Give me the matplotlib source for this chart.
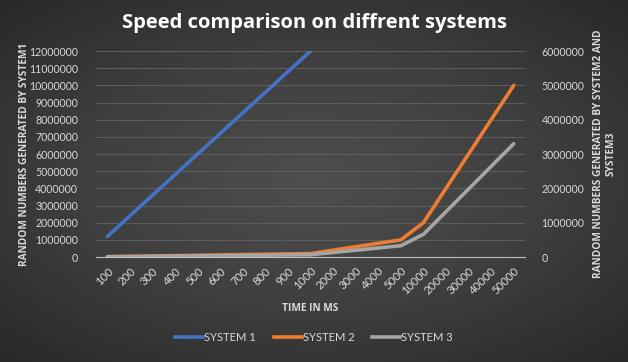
import numpy as np
import matplotlib
matplotlib.use("Agg")
import matplotlib.pyplot as plt
from matplotlib.lines import Line2D

categories = ["100", "200", "300", "400", "500", "600", "700", "800", "900", "1000",
              "2000", "3000", "4000", "5000", "10000", "20000", "30000", "40000", "50000"]
system1 = [1200000, 2400000, 3600000, 4800000, 6000000, 7200000, 8400000, 9600000,
           10800000, 12000000] + [np.nan] * 9
system2 = [10000, 20000, 30000, 40000, 50000, 60000, 70000, 80000, 90000, 100000,
           200000, 300000, 400000, 500000, 1000000, 2000000, 3000000, 4000000, 5000000]
system3 = [6600, 13200, 19800, 26400, 33000, 39600, 46200, 52800, 59400, 66000,
           132000, 198000, 264000, 330000, 660000, 1320000, 1980000, 2640000, 3300000]

plt.rcParams['font.family'] = ['Lato', 'DejaVu Sans']
bold_font = ['Open Sans', 'DejaVu Sans']
txt = '#d9d9d9'
fig = plt.figure(figsize=(6.28, 3.62), dpi=100)

# radial dark gradient background
bg = fig.add_axes([0, 0, 1, 1], zorder=-10)
yy, xx = np.mgrid[-1:1:200j, -1:1:300j]
r = np.sqrt((xx * 0.85) ** 2 + (yy * 0.9) ** 2)
bg.imshow(np.clip(r, 0, 1.3), cmap=matplotlib.colors.LinearSegmentedColormap.from_list(
    'g', ['#4e4e4e', '#3e3e3e', '#262626']), aspect='auto', extent=[0, 1, 0, 1], vmin=0, vmax=1.3)
bg.axis('off')

ax = fig.add_axes([0.153, 0.290, 0.683, 0.569])
ax.patch.set_alpha(0)
ax2 = ax.twinx()
ax2.patch.set_alpha(0)

x = np.arange(len(categories))
ax.plot(x, system1, color='#4472C4', lw=2.6, solid_capstyle='round', zorder=3)
ax2.plot(x, system2, color='#ED7D31', lw=2.6, solid_capstyle='round', zorder=3)
ax2.plot(x, system3, color='#A5A5A5', lw=2.6, solid_capstyle='round', zorder=3)

ax.set_xlim(-0.5, len(categories) - 0.5)
ax.set_ylim(0, 12000000)
ax2.set_ylim(0, 6000000)
ax.set_yticks(np.arange(0, 12000001, 1000000))
ax2.set_yticks(np.arange(0, 6000001, 1000000))
ax.set_yticklabels([str(v) for v in range(0, 12000001, 1000000)])
ax2.set_yticklabels([str(v) for v in range(0, 6000001, 1000000)])
ax.set_xticks(x)
ax.set_xticklabels(categories, rotation=45, ha='right', va='top', rotation_mode='anchor')

ax.grid(axis='y', color='#5c5c5c', lw=0.8)
ax.set_axisbelow(True)
for a in (ax, ax2):
    for s in a.spines.values():
        s.set_visible(False)
    a.tick_params(length=0, colors=txt, labelsize=7.6)
ax.tick_params(axis='x', labelsize=8.2, pad=6)
ax.spines['bottom'].set_visible(True)
ax.spines['bottom'].set_color('#bfbfbf')
ax.tick_params(axis='y', pad=13)
ax2.tick_params(axis='y', pad=12)

ax.set_ylabel('RANDOM NUMBERS GENERATED BY SYSTEM1', color=txt, fontsize=7.3,
              fontweight='bold', family=bold_font, va='center')
ax.yaxis.set_label_coords(-0.166, 0.5)
ax2.set_ylabel('RANDOM NUMBERS GENERATED BY SYSTEM2 AND\nSYSTEM3', color=txt, fontsize=7.3,
               fontweight='bold', rotation=90, linespacing=1.1, family=bold_font, va='center')
ax2.yaxis.set_label_coords(1.186, 0.5)
ax.set_xlabel('TIME IN MS', color=txt, fontsize=7.3, fontweight='bold', labelpad=5,
              family=bold_font)

fig.suptitle('Speed comparison on diffrent systems', color='white', fontsize=14.5,
             fontweight='bold', y=0.965, family=bold_font)

handles = [Line2D([], [], color=c, lw=2.6) for c in ('#4472C4', '#ED7D31', '#A5A5A5')]
fig.legend(handles, ['SYSTEM 1', 'SYSTEM 2', 'SYSTEM 3'], loc='center',
           bbox_to_anchor=(0.5, 0.068), ncol=3, frameon=False, fontsize=8,
           labelcolor=txt, handlelength=2.5, handletextpad=0.1, columnspacing=1.6)

fig.savefig('out.png', dpi=100)
